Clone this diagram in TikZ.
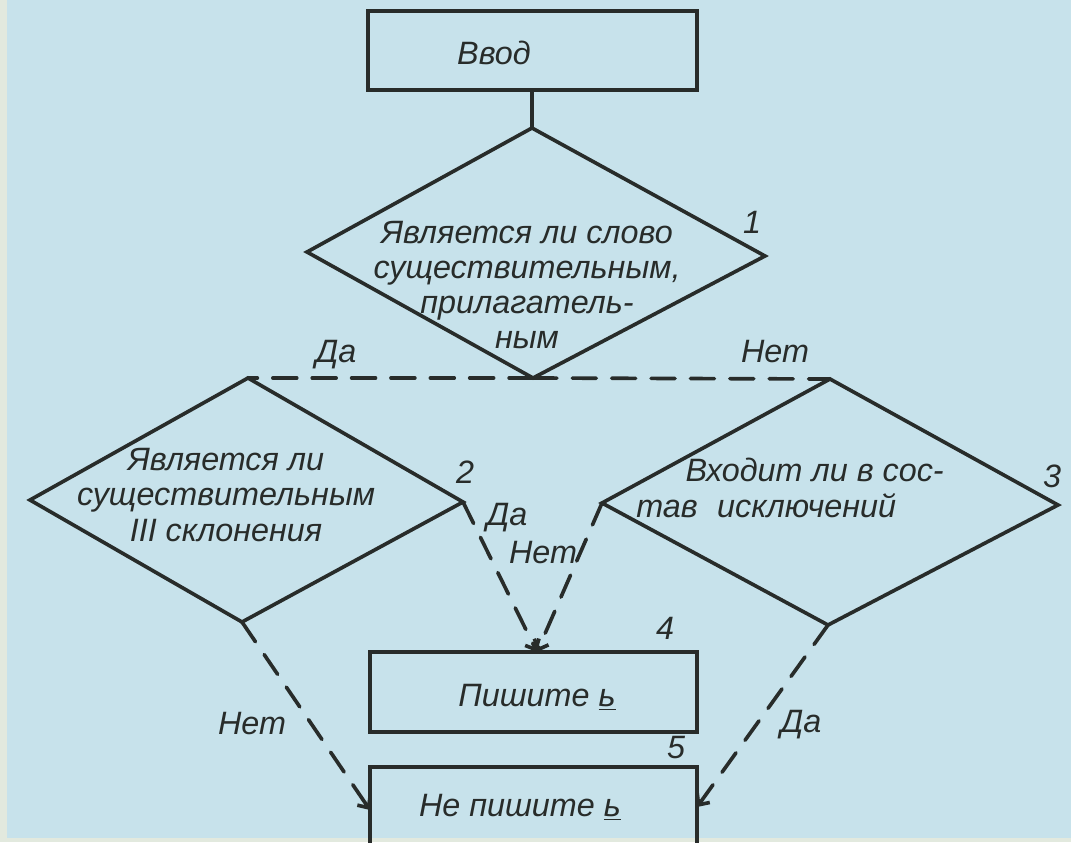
\documentclass[tikz,border=0pt]{standalone}
\usepackage{fontspec}
\setmainfont{Liberation Sans}
\usepackage{xcolor}
\usepackage{tkz-euclide}
\usetikzlibrary{arrows.meta}

\definecolor{fondo}{RGB}{199,226,235}
\definecolor{orilla}{RGB}{226,233,222}
\definecolor{tinta}{RGB}{40,44,42}

\tikzset{
  linea/.style={draw=tinta,line width=2.6pt,line join=miter},
  rayas/.style={draw=tinta,line width=2.6pt,dash pattern=on 17pt off 11pt},
  flecha/.style={-{Straight Barb[length=6pt,width=11pt]}},
  texto/.style={font=\itshape\fontsize{23}{25}\selectfont,text=tinta,inner sep=0pt}
}

\begin{document}
\begin{tikzpicture}[x=0.025cm,y=-0.025cm]
        % Paso 1: Fondo de la lámina
        \clip (0,0) rectangle (1071,842);
        \fill[fondo] (0,0) rectangle (1071,842);
        \fill[orilla] (0,0) rectangle (7,842);
        \fill[orilla] (0,838) rectangle (1071,842);

        % Paso 2: Define los vértices de los rectángulos
        \tkzDefPoint(368,11){E1} \tkzDefPoint(697,11){E2}
        \tkzDefPoint(697,90){E3} \tkzDefPoint(368,90){E4}
        \tkzDefPoint(532,90){E} % salida de "Ввод"
        \tkzDefPoint(370,652){P1} \tkzDefPoint(697,652){P2}
        \tkzDefPoint(697,732){P3} \tkzDefPoint(370,732){P4}
        \tkzDefPoint(537,652){P} % entrada de "Пишите"
        \tkzDefPoint(370,767){N1} \tkzDefPoint(697,767){N2}
        \tkzDefPoint(697,850){N3} \tkzDefPoint(370,850){N4}
        \tkzDefPoint(370,810){Nw} \tkzDefPoint(697,807){Ne}

        % Paso 3: Define los vértices de los rombos
        % (arriba, derecha, abajo, izquierda)
        \tkzDefPoint(532,128){A1} \tkzDefPoint(765,256){B1}
        \tkzDefPoint(533,378){C1} \tkzDefPoint(307,252){D1}
        \tkzDefPoint(248,378){A2} \tkzDefPoint(463,502){B2}
        \tkzDefPoint(242,622){C2} \tkzDefPoint(30,500){D2}
        \tkzDefPoint(830,379){A3} \tkzDefPoint(1058,505){B3}
        \tkzDefPoint(828,625){C3} \tkzDefPoint(602,503){D3}

        % Paso 4: Dibuja rectángulos y rombos
        \tkzDrawPolygon[linea](E1,E2,E3,E4)
        \tkzDrawPolygon[linea](P1,P2,P3,P4)
        \tkzDrawPolygon[linea](N1,N2,N3,N4)
        \foreach \j in {1,2,3} { \tkzDrawPolygon[linea](A\j,B\j,C\j,D\j)}

        % Paso 5: Conexiones (punteadas las de las respuestas)
        \tkzDrawSegment[linea](E,A1)
        \tkzDrawSegment[rayas](C1,A2)
        \tkzDrawSegment[rayas](C1,A3)
        \tkzDrawSegment[rayas,flecha](B2,P)
        \tkzDrawSegment[rayas,flecha](D3,P)
        \tkzDrawSegment[rayas,flecha](C2,Nw)
        \tkzDrawSegment[rayas,flecha](C3,Ne)

        % Paso 6: Textos de los bloques
        \node[texto] (ent) at (494,53) {Ввод};
        \node[texto,align=center] (preg1) at (527,285)
          {Является ли слово\\существительным,\\прилагатель-\\ным};
        \node[texto,align=center] (preg2) at (226,495)
          {Является ли\\существительным\\III склонения};
        \node[texto,align=left,anchor=west] (preg3) at (636,488)
          {\hspace*{35pt}Входит ли в сос-\\тав\hspace{0.6em}исключений};
        \node[texto] (sal4) at (537,697) {Пишите \underline{ь}};
        \node[texto] (sal5) at (520,807) {Не пишите \underline{ь}};

        % Paso 7: Números y respuestas
        \node[texto] (n1) at (752,222) {1};
        \node[texto] (n2) at (465,472) {2};
        \node[texto] (n3) at (1052,476) {3};
        \node[texto] (n4) at (665,628) {4};
        \node[texto] (n5) at (676,748) {5};
        \node[texto] (r1) at (336,355) {Да};
        \node[texto] (r2) at (775,352) {Нет};
        \node[texto] (r3) at (507,518) {Да};
        \node[texto] (r4) at (543,553) {Нет};
        \node[texto] (r5) at (252,724) {Нет};
        \node[texto] (r6) at (801,725) {Да};
    \end{tikzpicture}
\end{document}
